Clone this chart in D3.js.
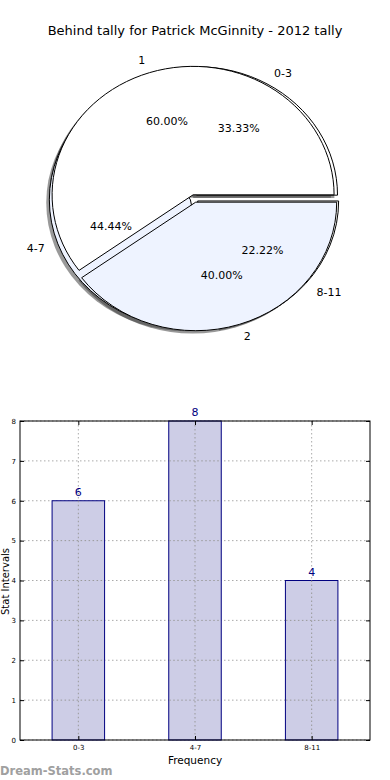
<!DOCTYPE html>
<html>
<head>
<meta charset="utf-8">
<script src="https://cdn.jsdelivr.net/npm/d3@7"></script>
<style>
body { margin: 0; background: #fff; }
svg { display: block; font-family: "DejaVu Sans", sans-serif; }
</style>
</head>
<body>
<svg id="chart" width="390" height="780"></svg>
<script>
// outer pie (drawn on top)
const groupLabels = ["1", "2"]
const groupValues = [60, 40]
// inner pie / bars
const intervals = ["0-3", "4-7", "8-11"]
const counts = [6, 8, 4]
const yTicks = [0, 1, 2, 3, 4, 5, 6, 7, 8]

const title = "Behind tally for Patrick McGinnity - 2012 tally"
const sliceColors = ["#ffffff", "#eef3ff"]

const svg = d3.select("#chart")

svg.append("text")
    .attr("x", 195).attr("y", 35)
    .attr("text-anchor", "middle")
    .style("font-size", "13px")
    .text(title)

// ---- pie part ----
const cx = 194.4, cy = 198.5, rx = 141, ry = 128.5
const explode = 0.03

// matplotlib-ish: start at east, go counterclockwise
const pie = d3.pie().sort(null)
    .startAngle(Math.PI / 2)
    .endAngle(Math.PI / 2 - 2 * Math.PI)
const arc = d3.arc().innerRadius(0).outerRadius(1)

const pieG = svg.append("g")

function layout(values, labels) {
    return pie(values).map((d, i) => {
        const m = (d.startAngle + d.endAngle) / 2
        return {
            arc: d, label: labels[i], i: i, m: m,
            pct: (d.value / d3.sum(values) * 100).toFixed(2) + "%",
            ox: cx + explode * rx * Math.sin(m),
            oy: cy - explode * ry * Math.cos(m)
        }
    })
}

const inner = layout(counts, intervals)
const outer = layout(groupValues, groupLabels)
const all = inner.concat(outer)

// shadows first
pieG.selectAll(".shadow")
    .data(all)
    .enter().append("path")
    .attr("class", "shadow")
    .attr("d", d => arc(d.arc))
    .attr("transform", d => `translate(${d.ox - 0.022 * rx},${d.oy + 0.022 * ry}) scale(${rx},${ry})`)
    .style("fill", "#333")
    .style("opacity", 0.5)

function drawWedges(set, cls) {
    pieG.selectAll("." + cls)
        .data(set)
        .enter().append("path")
        .attr("class", cls)
        .attr("d", d => arc(d.arc))
        .attr("transform", d => `translate(${d.ox},${d.oy}) scale(${rx},${ry})`)
        .attr("vector-effect", "non-scaling-stroke")
        .style("fill", d => sliceColors[d.i % 2])
        .style("stroke", "#000")
        .style("stroke-width", 1)
        .style("stroke-linejoin", "round")
}
drawWedges(inner, "wedgeB")
drawWedges(outer, "wedgeA")

// labels
all.forEach(d => {
    const sx = Math.sin(d.m), sy = Math.cos(d.m)
    pieG.append("text")
        .attr("x", d.ox + 1.1 * rx * sx)
        .attr("y", d.oy - 1.1 * ry * sy)
        .attr("dy", "0.35em")
        .attr("text-anchor", sx > 0 ? "start" : "end")
        .style("font-size", "11px")
        .text(d.label)
    pieG.append("text")
        .attr("x", d.ox + 0.6 * rx * sx)
        .attr("y", d.oy - 0.6 * ry * sy)
        .attr("dy", "0.35em")
        .attr("text-anchor", "middle")
        .style("font-size", "11px")
        .text(d.pct)
})

// ---- bar part ----
const bLeft = 20, bRight = 370, bTop = 421, bBottom = 740

const x = d3.scalePoint().domain(intervals).range([bLeft, bRight]).padding(0.5)
const y = d3.scaleLinear().domain([0, 8]).range([bBottom, bTop])
const barW = x.step() * 0.45

const barG = svg.append("g")

function dotted(sel, clr) {
    return sel.style("stroke", clr).style("stroke-dasharray", "1.5,2.5")
}

// grid
dotted(barG.selectAll(".hgrid")
    .data(yTicks)
    .enter().append("line")
    .attr("x1", bLeft).attr("x2", bRight)
    .attr("y1", d => y(d)).attr("y2", d => y(d)), "#aaa")

dotted(barG.selectAll(".vgrid")
    .data(intervals)
    .enter().append("line")
    .attr("x1", d => x(d)).attr("x2", d => x(d))
    .attr("y1", bTop).attr("y2", bBottom), "#aaa")

barG.selectAll(".bar")
    .data(counts)
    .enter().append("rect")
    .attr("class", "bar")
    .attr("x", (d, i) => x(intervals[i]) - barW / 2)
    .attr("y", d => y(d))
    .attr("width", barW)
    .attr("height", d => bBottom - y(d))
    .style("fill", "#cdcde6")
    .style("stroke", "#000080")
    .style("stroke-width", 1)

// grid shows through the bars too
counts.forEach((c, i) => {
    dotted(barG.append("line")
        .attr("x1", x(intervals[i])).attr("x2", x(intervals[i]))
        .attr("y1", y(c)).attr("y2", bBottom), "#999")
    yTicks.filter(t => t > 0 && t < c).forEach(t => {
        dotted(barG.append("line")
            .attr("x1", x(intervals[i]) - barW / 2 + 0.5)
            .attr("x2", x(intervals[i]) + barW / 2 - 0.5)
            .attr("y1", y(t)).attr("y2", y(t)), "#999")
    })
})

barG.selectAll(".val")
    .data(counts)
    .enter().append("text")
    .attr("x", (d, i) => x(intervals[i]))
    .attr("y", d => y(d) - 5)
    .attr("text-anchor", "middle")
    .style("font-size", "11px")
    .style("fill", "#000080")
    .text(d => d)

// frame
barG.append("rect")
    .attr("x", bLeft).attr("y", bTop)
    .attr("width", bRight - bLeft).attr("height", bBottom - bTop)
    .style("fill", "none")
    .style("stroke", "#000")
    .style("stroke-width", 1)

// axes with inward ticks
barG.append("g")
    .attr("transform", `translate(${bLeft},0)`)
    .call(d3.axisLeft(y).tickValues(yTicks).tickSize(-4).tickPadding(4))
    .call(g => g.select(".domain").remove())
    .selectAll("text").style("font-size", "7px").style("font-family", "DejaVu Sans")
barG.append("g")
    .attr("transform", `translate(${bRight},0)`)
    .call(d3.axisRight(y).tickValues(yTicks).tickSize(-4).tickFormat(""))
    .call(g => g.select(".domain").remove())

barG.append("g")
    .attr("transform", `translate(0,${bBottom})`)
    .call(d3.axisBottom(x).tickSize(-4).tickPadding(5))
    .call(g => g.select(".domain").remove())
    .selectAll("text").style("font-size", "7px").style("font-family", "DejaVu Sans")
barG.append("g")
    .attr("transform", `translate(0,${bTop})`)
    .call(d3.axisTop(x).tickSize(-4).tickFormat(""))
    .call(g => g.select(".domain").remove())

svg.append("text")
    .attr("x", (bLeft + bRight) / 2).attr("y", 764)
    .attr("text-anchor", "middle")
    .style("font-size", "10.5px")
    .text("Frequency")

svg.append("text")
    .attr("transform", `translate(9,${(bTop + bBottom) / 2 + 1}) rotate(-90)`)
    .attr("text-anchor", "middle")
    .style("font-size", "10px")
    .text("Stat Intervals")

svg.append("text")
    .attr("x", 0).attr("y", 775)
    .style("font-size", "11.5px")
    .style("font-weight", "bold")
    .style("fill", "#a0a0a0")
    .text("Dream-Stats.com")
</script>
</body>
</html>
